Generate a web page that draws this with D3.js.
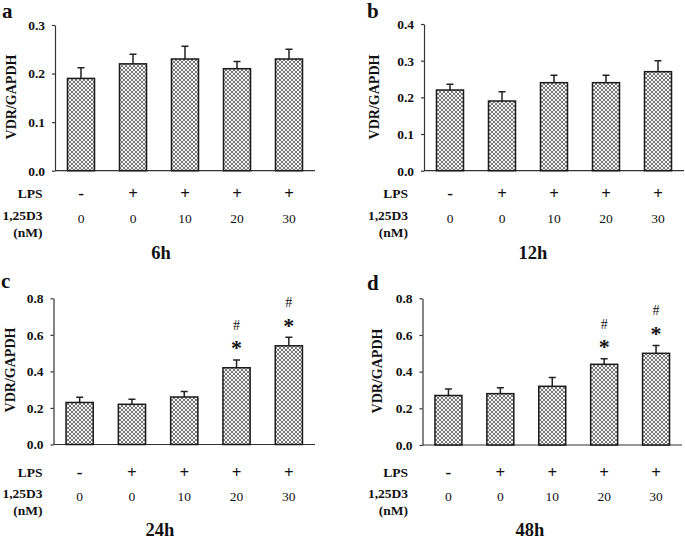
<!DOCTYPE html>
<html><head><meta charset="utf-8">
<script src="https://cdn.jsdelivr.net/npm/d3@7"></script>
<style>
html,body{margin:0;padding:0;background:#fff;}
svg{display:block;}
svg text{font-family:"Times New Roman",Times,"Liberation Serif",Tinos,serif;}
</style></head>
<body>
<svg id="chart" width="685" height="540"></svg>
<script>
// ---- data ----
const lpsLabels = ["-", "+", "+", "+", "+"];
const doseLabels = ["0", "0", "10", "20", "30"];
const groups = ["g1", "g2", "g3", "g4", "g5"];

const panelLetters = ["a", "b", "c", "d"];
const panelTitles = ["6h", "12h", "24h", "48h"];
const yMax = [0.3, 0.4, 0.8, 0.8];
const yTicksA = [0.0, 0.1, 0.2, 0.3];
const yTicksB = [0.0, 0.1, 0.2, 0.3, 0.4];
const yTicksCD = [0.0, 0.2, 0.4, 0.6, 0.8];

const means6h  = [0.19, 0.22, 0.23, 0.21, 0.23];
const errs6h   = [0.022, 0.020, 0.026, 0.015, 0.020];
const means12h = [0.22, 0.19, 0.24, 0.24, 0.27];
const errs12h  = [0.016, 0.025, 0.020, 0.020, 0.030];
const means24h = [0.23, 0.22, 0.26, 0.42, 0.54];
const errs24h  = [0.028, 0.028, 0.030, 0.042, 0.047];
const means48h = [0.27, 0.28, 0.32, 0.44, 0.50];
const errs48h  = [0.035, 0.032, 0.048, 0.030, 0.042];

// significance markers ("*" and "#") per bar
const sig6h  = [false, false, false, false, false];
const sig12h = [false, false, false, false, false];
const sig24h = [false, false, false, true, true];
const sig48h = [false, false, false, true, true];

// ---- layout ----
const layouts = [
  {x0: 55,  x1: 315, yTop: 25,  yBot: 170.7, ticks: yTicksA, letter: [2, 18],   ylab: [11, 97],   rowRight: 42.5, lpsY: 193.5, doseY: 217.5, nmY: 230, titleY: 253, titleX: 161},
  {x0: 424, x1: 684, yTop: 24,  yBot: 170.7, ticks: yTicksB, letter: [367, 18], ylab: [374, 97],  rowRight: 408,  lpsY: 193.5, doseY: 217.5, nmY: 230, titleY: 253, titleX: 533},
  {x0: 53.5,x1: 315, yTop: 298.3,yBot: 444.5,ticks: yTicksCD,letter: [1, 288],  ylab: [10, 370],  rowRight: 42.5, lpsY: 472, doseY: 495.5, nmY: 508, titleY: 530, titleX: 160},
  {x0: 422.5,x1: 682,yTop: 298.3,yBot: 445, ticks: yTicksCD, letter: [367, 290],ylab: [377, 371], rowRight: 408,  lpsY: 472, doseY: 495.5, nmY: 508, titleY: 530, titleX: 530}
];
const meansAll = [means6h, means12h, means24h, means48h];
const errsAll = [errs6h, errs12h, errs24h, errs48h];
const sigAll = [sig6h, sig12h, sig24h, sig48h];

const svg = d3.select("#chart");
const defs = svg.append("defs");
const pat = defs.append("pattern").attr("id", "hatch")
  .attr("patternUnits", "userSpaceOnUse").attr("width", 4).attr("height", 4);
pat.append("rect").attr("width", 4).attr("height", 4).attr("fill", "#f4f4f4");
pat.append("path").attr("d", "M0,0 L4,4 M4,0 L0,4 M-1,3 L1,5 M3,-1 L5,1 M3,5 L5,3 M-1,1 L1,-1")
  .attr("stroke", "#6a6a6a").attr("stroke-width", 0.9);

const ink = "#111";

layouts.forEach((L, pi) => {
  const g = svg.append("g");
  const means = meansAll[pi], errs = errsAll[pi], sig = sigAll[pi];
  const x = d3.scaleBand().domain(groups).range([L.x0, L.x1]).paddingInner(0.48).paddingOuter(0.24);
  const y = d3.scaleLinear().domain([0, yMax[pi]]).range([L.yBot, L.yTop]);

  // y axis
  const yAxis = d3.axisLeft(y).tickValues(L.ticks).tickFormat(d3.format(".1f")).tickSizeOuter(0).tickSizeInner(3).tickPadding(7);
  const ya = g.append("g").attr("transform", `translate(${L.x0},0)`).call(yAxis);
  ya.attr("font-family", null);
  ya.select(".domain").attr("stroke", "#333").attr("stroke-width", 1.2);
  ya.selectAll(".tick line").attr("stroke", "#333").attr("stroke-width", 1.2);
  ya.selectAll(".tick text").attr("font-weight", "bold")
    .attr("font-size", 13.5).attr("fill", ink);

  // x axis (line only)
  const xAxis = d3.axisBottom(x).tickSize(0).tickFormat("");
  const xa = g.append("g").attr("transform", `translate(0,${L.yBot})`).call(xAxis);
  xa.select(".domain").attr("stroke", "#333").attr("stroke-width", 1.2).attr("d", `M${L.x0},0H${L.x1}`);

  // error bars
  const cap = 3.5;
  g.selectAll(".err").data(groups).enter().append("path")
    .attr("d", (d, i) => {
      const cx = x(d) + x.bandwidth() / 2;
      return `M${cx},${y(means[i])}V${y(means[i] + errs[i])}M${cx - cap},${y(means[i] + errs[i])}H${cx + cap}`;
    })
    .attr("stroke", "#222").attr("stroke-width", 1.5).attr("fill", "none");

  // bars
  g.selectAll(".bar").data(groups).enter().append("rect")
    .attr("x", d => x(d)).attr("width", x.bandwidth())
    .attr("y", (d, i) => y(means[i])).attr("height", (d, i) => y(0) - y(means[i]))
    .attr("fill", "url(#hatch)").attr("stroke", "#1a1a1a").attr("stroke-width", 1.5);

  // significance markers
  groups.forEach((d, i) => {
    if (!sig[i]) return;
    const cx = x(d) + x.bandwidth() / 2;
    const top = y(means[i] + errs[i]);
    g.append("text").attr("x", cx).attr("y", top - 15 + 0.47 * 22).attr("text-anchor", "middle")
      .attr("font-size", 22).attr("font-weight", "bold").attr("fill", ink).text("*");
    g.append("text").attr("x", cx).attr("y", top - 35 + 0.34 * 14).attr("text-anchor", "middle")
      .attr("font-size", 14).attr("fill", ink).text("#");
  });

  // row labels
  const tf = {"font-weight": "bold", "font-size": 13.5, "fill": ink};
  const addT = (tx, ty, s, anchor, extra) => {
    const t = g.append("text").attr("x", tx).attr("y", ty).attr("text-anchor", anchor)
      .attr("dominant-baseline", "central").text(s);
    Object.entries(Object.assign({}, tf, extra || {})).forEach(([k, v]) => t.attr(k, v));
    return t;
  };
  addT(L.rowRight, L.lpsY, "LPS", "end");
  addT(L.rowRight, L.doseY - 2, "1,25D3", "end");
  addT(L.rowRight, L.nmY + 2, "(nM)", "end");
  groups.forEach((d, i) => {
    const cx = x(d) + x.bandwidth() / 2;
    addT(cx, L.lpsY, lpsLabels[i], "middle", {"font-size": 17});
    addT(cx, L.doseY + 1, doseLabels[i], "middle", {"font-weight": "normal", "font-size": 13.5});
  });

  // title
  addT(L.titleX, L.titleY, panelTitles[pi], "middle", {"font-size": 18.5});
  // panel letter
  g.append("text").attr("x", L.letter[0]).attr("y", L.letter[1]).attr("font-size", 21)
    .attr("font-weight", "bold").attr("fill", ink).text(panelLetters[pi]);
  // y label
  g.append("text").attr("transform", `translate(${L.ylab[0]},${L.ylab[1]}) rotate(-90)`)
    .attr("text-anchor", "middle").attr("dominant-baseline", "central")
    .attr("font-size", 14).attr("font-weight", "bold").attr("fill", ink).text("VDR/GAPDH");
});
</script>
</body></html>
